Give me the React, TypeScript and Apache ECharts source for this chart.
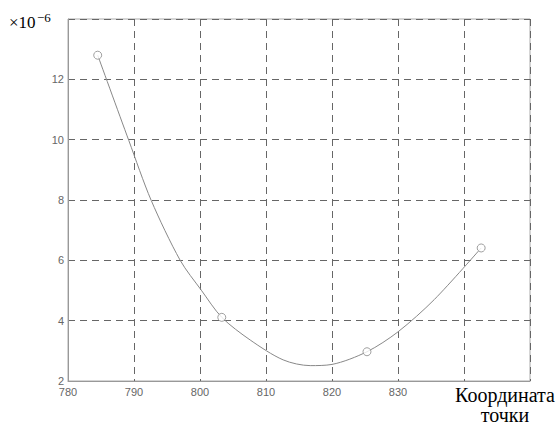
import React, { useEffect, useRef } from "react";
import * as echarts from "echarts";

const xTickLabels = ["780", "790", "800", "810", "820", "830"];
const yTickLabels = ["2", "4", "6", "8", "10", "12"];

// measured points (circles)
const pointX = [784.5, 803.3, 825.3, 842.6];
const pointY = [12.8, 4.11, 2.97, 6.41];

// smooth curve
const curveX = [784.5, 789.2, 792.6, 797.0, 800.2, 803.3, 807.6, 812.6, 816.7, 820, 825.3, 830, 835.5, 842.6];
const curveY = [12.8, 9.98, 7.99, 6.0, 5.01, 4.11, 3.36, 2.7, 2.51, 2.55, 2.97, 3.63, 4.7, 6.41];

const serif = "Liberation Serif, Times New Roman, serif";

export default function App() {
  const ref = useRef<HTMLDivElement>(null);
  useEffect(() => {
    if (!ref.current) return;
    const chart = echarts.init(ref.current, undefined, { renderer: "svg" });
    const labelStyle = { color: "#666", fontSize: 11, fontFamily: "Arial, Liberation Sans, sans-serif" };
    chart.setOption({
      animation: false,
      backgroundColor: "#fff",
      grid: {
        left: 68,
        right: 27,
        top: 19,
        bottom: 45,
        show: true,
        borderColor: "#aaa",
        borderWidth: 1,
        backgroundColor: "transparent",
      },
      xAxis: {
        type: "value",
        min: 780,
        max: 850,
        interval: 10,
        axisLine: { show: true, lineStyle: { color: "#999" } },
        axisTick: { show: false },
        axisLabel: {
          ...labelStyle,
          margin: 5,
          formatter: (v: number) => (xTickLabels.includes(String(v)) ? String(v) : ""),
        },
        splitLine: { show: true, lineStyle: { color: "#666", type: [7, 5], width: 1 } },
      },
      yAxis: {
        type: "value",
        min: 2,
        max: 14,
        interval: 2,
        axisLine: { show: true, lineStyle: { color: "#999" } },
        axisTick: { show: false },
        axisLabel: {
          ...labelStyle,
          margin: 4,
          formatter: (v: number) => (yTickLabels.includes(String(v)) ? String(v) : ""),
        },
        splitLine: { show: true, lineStyle: { color: "#666", type: [7, 5], width: 1 } },
      },
      graphic: [
        {
          type: "text",
          x: 9,
          y: 14,
          style: { text: "×10", fontSize: 17, lineHeight: 17, fontFamily: serif, fill: "#000", verticalAlign: "top" },
        },
        {
          type: "text",
          x: 37,
          y: 11,
          style: { text: "−6", fontSize: 13, lineHeight: 13, fontFamily: serif, fill: "#000", verticalAlign: "top" },
        },
        {
          type: "text",
          x: 505,
          y: 385,
          style: {
            text: "Координата\nточки",
            align: "center",
            verticalAlign: "top",
            fontSize: 20,
            lineHeight: 20,
            fontFamily: serif,
            fill: "#000",
          },
        },
      ],
      series: [
        {
          type: "line",
          data: curveX.map((x, i) => [x, curveY[i]]),
          smooth: 0.3,
          showSymbol: false,
          lineStyle: { color: "#888", width: 1 },
          z: 2,
        },
        {
          type: "scatter",
          data: pointX.map((x, i) => [x, pointY[i]]),
          symbol: "circle",
          symbolSize: 8,
          itemStyle: { color: "#fff", borderColor: "#888", borderWidth: 1 },
          z: 3,
        },
      ],
    });
    return () => chart.dispose();
  }, []);
  return <div ref={ref} style={{ position: "fixed", left: 0, top: 0, width: 557, height: 426 }} />;
}
